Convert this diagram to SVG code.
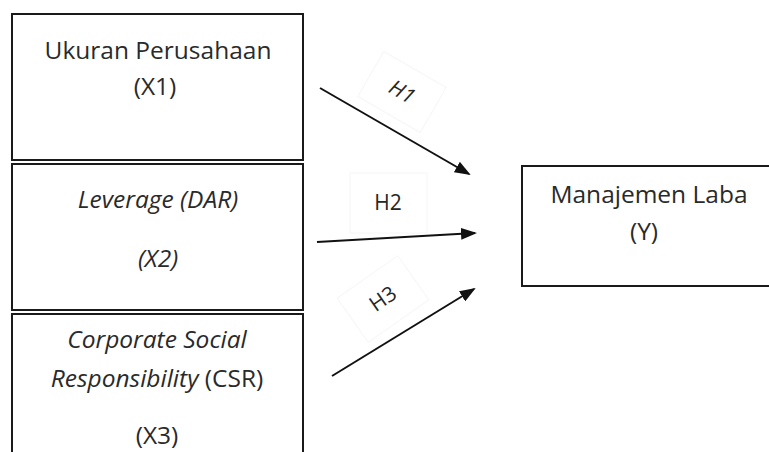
<svg xmlns="http://www.w3.org/2000/svg" width="769" height="452" viewBox="0 0 769 452">
<style>
.box{fill:#fff;stroke:#1a1a1a;stroke-width:2}
.t{font-family:"Open Sans","Liberation Sans",sans-serif;font-size:24.5px;fill:#2a2a2a;text-anchor:middle}
.i{font-style:italic}
.lbl{font-family:"Open Sans","Liberation Sans",sans-serif;font-size:21px;fill:#262626;text-anchor:middle}
.faint{fill:none;stroke:#f6f6f6;stroke-width:1}
.arr{stroke:#111;stroke-width:2;fill:none;marker-end:url(#ah)}
</style>
<defs>
<marker id="ah" markerWidth="8" markerHeight="6" refX="7" refY="3" orient="auto" markerUnits="strokeWidth">
<path d="M0,0 L8,3 L0,6 z" fill="#111"/>
</marker>
</defs>
<rect width="769" height="452" fill="#fff"/>
<g id="x1">
<rect class="box" x="12" y="14" width="291" height="146"/>
<text class="t" x="158" y="59">Ukuran Perusahaan</text>
<text class="t" x="155" y="95">(X1)</text>
</g>
<g id="x2">
<rect class="box" x="12" y="164" width="291" height="146"/>
<text class="t i" x="158" y="208">Leverage (DAR)</text>
<text class="t i" x="158" y="267">(X2)</text>
</g>
<g id="x3">
<rect class="box" x="12" y="314" width="291" height="160"/>
<text class="t i" x="157" y="348">Corporate Social</text>
<text class="t" x="157" y="387"><tspan class="i">Responsibility</tspan> (CSR)</text>
<text class="t" x="157" y="444">(X3)</text>
</g>
<g id="y">
<rect class="box" x="522" y="166" width="270" height="120"/>
<text class="t" x="649" y="203">Manajemen Laba</text>
<text class="t" x="644" y="240">(Y)</text>
</g>
<g id="connectors">
<line class="arr" x1="320" y1="88" x2="469" y2="174"/>
<line class="arr" x1="317" y1="242" x2="475" y2="233"/>
<line class="arr" x1="332" y1="376" x2="474" y2="289"/>
<g transform="translate(402,92) rotate(30)">
<rect class="faint" x="-36" y="-26" width="72" height="52"/>
<text class="lbl i" x="0" y="7">H1</text>
</g>
<g transform="translate(388,203)">
<rect class="faint" x="-38" y="-30" width="77" height="60"/>
<text class="lbl" x="0" y="7">H2</text>
</g>
<g transform="translate(383,299) rotate(-35)">
<rect class="faint" x="-37" y="-27" width="74" height="54"/>
<text class="lbl" x="0" y="7">H3</text>
</g>
</g>
</svg>
